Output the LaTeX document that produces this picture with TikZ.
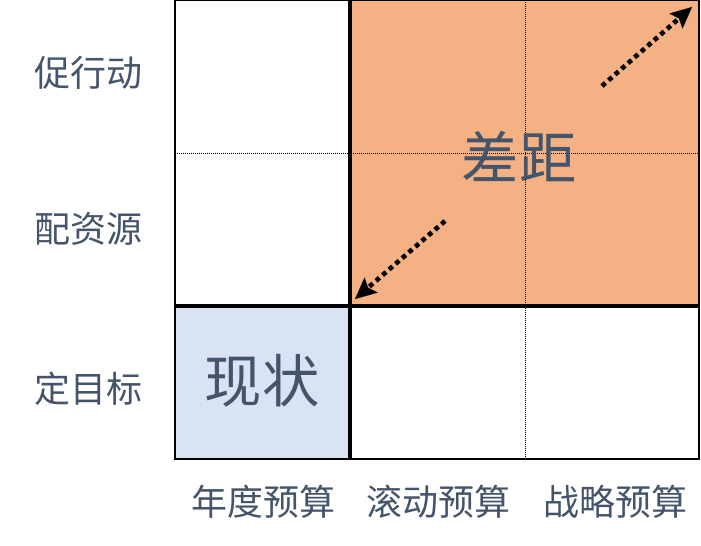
\documentclass[tikz,border=0pt]{standalone}
\usepackage{fontspec}
\newfontfamily\cjk{Noto Sans CJK SC}
\usetikzlibrary{arrows.meta}
\definecolor{gapfill}{HTML}{F4B183}
\definecolor{nowfill}{HTML}{DAE3F3}
\definecolor{labeltext}{HTML}{44546A}

\begin{document}
\begin{tikzpicture}[x=0.75pt,y=-0.75pt,
					thick,
					axis node/.style={text=labeltext,inner sep=0pt,
					                  font=\cjk\fontsize{27}{32}\selectfont},
					big node/.style={text=labeltext,inner sep=0pt,
					                 font=\cjk\fontsize{43}{50}\selectfont},
					grid line/.style={line width=0.75pt,dash pattern=on 0.75pt off 0.75pt},
					gap arrow/.style={line width=3.5pt,dash pattern=on 3.5pt off 3pt,
					                  -{Stealth[length=16pt,width=15pt,inset=3pt,line width=0.1pt]}}]

  \useasboundingbox (0,0) rectangle (701,546);

  % filled cells
  \fill[gapfill] (350,0) rectangle (699,306);
  \fill[nowfill] (175,306) rectangle (350,459);

  % grid
  \draw[grid line] (175,153) -- (699,153);
  \draw[grid line] (525,0) -- (525,459);
  \draw[line width=1.5pt] (175,0) rectangle (699,459);
  \draw[line width=2.5pt] (350,0) -- (350,459)
                          (175,306) -- (699,306);

  % row labels
  \node[axis node] (R3) at (89,73)  {促行动};
  \node[axis node] (R2) at (89,229) {配资源};
  \node[axis node] (R1) at (89,389) {定目标};

  % column labels
  \node[axis node] (C1) at (263,502) {年度预算};
  \node[axis node] (C2) at (438,502) {滚动预算};
  \node[axis node] (C3) at (615,502) {战略预算};

  % cell texts
  \node[big node] (now) at (262,381) {现状};
  \node[big node] (gap) at (519,157) {差距};

  % arrows
  \coordinate (a1) at (445,221);
  \coordinate (a2) at (355,299);
  \coordinate (b1) at (602,86);
  \coordinate (b2) at (692,7);
  \draw[gap arrow] (a1) -- (a2);
  \draw[gap arrow] (b1) -- (b2);
\end{tikzpicture}
\end{document}
